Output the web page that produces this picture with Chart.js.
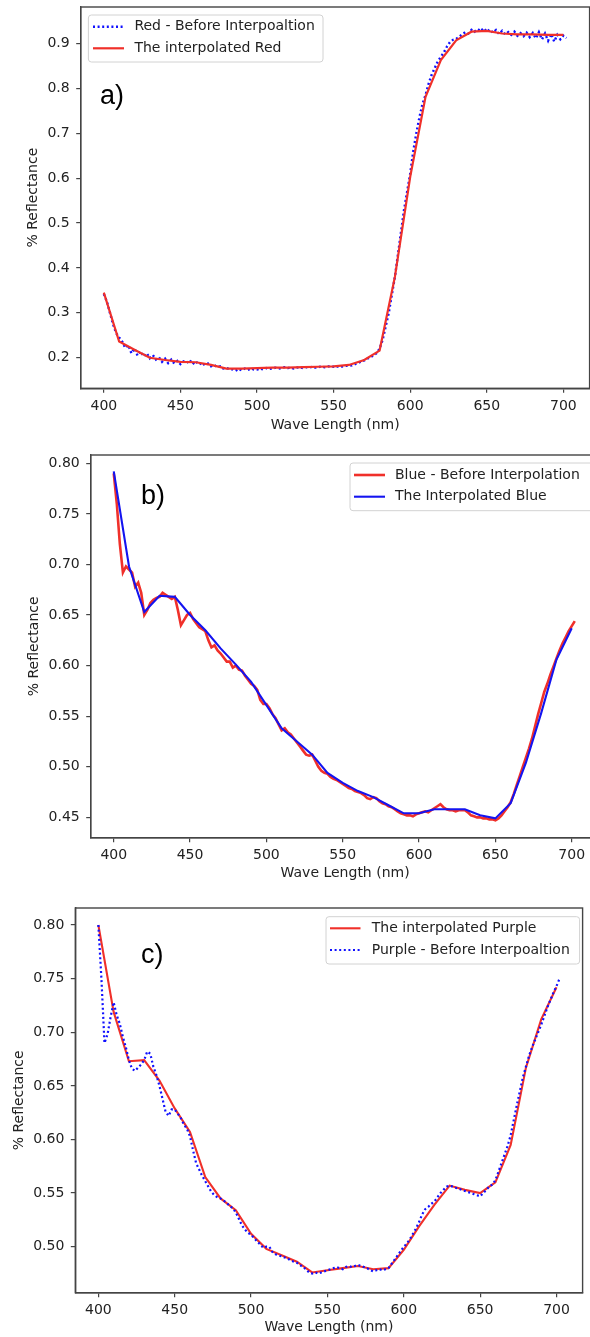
<!DOCTYPE html>
<html>
<head>
<meta charset="utf-8">
<script src="https://cdn.jsdelivr.net/npm/chart.js@4/dist/chart.umd.min.js"></script>
<style>
  body { margin: 0; width: 590px; height: 1337px; overflow: hidden; background: #fff; position: relative; }
  canvas { position: absolute; left: 0; }
  .tag { position: absolute; font-family: "Liberation Sans", Arial, sans-serif; font-size: 27px; line-height: 27px; color: #000; }
</style>
</head>
<body>
<canvas id="chartA" width="600" height="440" style="top:0"></canvas>
<canvas id="chartB" width="610" height="450" style="top:440px"></canvas>
<canvas id="chartC" width="600" height="447" style="top:890px"></canvas>
<div class="tag" style="left:100px;top:82px">a)</div>
<div class="tag" style="left:141px;top:482px">b)</div>
<div class="tag" style="left:141px;top:941px">c)</div>
<script>
// wavelengths (nm)
const waveFine = [
  400,402,404,406,408,410,412,414,416,418,
  420,422,424,426,428,430,432,434,436,438,
  440,442,444,446,448,450,452,454,456,458,
  460,462,464,466,468,470,472,474,476,478,
  480,482,484,486,488,490,492,494,496,498,
  500,502,504,506,508,510,512,514,516,518,
  520,522,524,526,528,530,532,534,536,538,
  540,542,544,546,548,550,552,554,556,558,
  560,562,564,566,568,570,572,574,576,578,
  580,582,584,586,588,590,592,594,596,598,
  600,602,604,606,608,610,612,614,616,618,
  620,622,624,626,628,630,632,634,636,638,
  640,642,644,646,648,650,652,654,656,658,
  660,662,664,666,668,670,672,674,676,678,
  680,682,684,686,688,690,692,694,696,698,
  700,702
];
const waveCoarse = [400,410,420,430,440,450,460,470,480,490,500,510,520,530,540,550,
  560,570,580,590,600,610,620,630,640,650,660,670,680,690,700];

// a) Red
const redBefore = [
  0.342,0.325,0.300,0.275,0.255,0.245,0.236,0.222,0.228,0.210,
  0.221,0.205,0.214,0.203,0.210,0.199,0.206,0.196,0.201,0.191,
  0.198,0.188,0.196,0.187,0.193,0.186,0.192,0.188,0.195,0.186,
  0.192,0.185,0.189,0.183,0.187,0.181,0.184,0.179,0.181,0.176,
  0.177,0.175,0.174,0.171,0.175,0.172,0.176,0.173,0.176,0.174,
  0.174,0.176,0.174,0.177,0.175,0.176,0.178,0.176,0.177,0.179,
  0.177,0.178,0.176,0.178,0.179,0.177,0.179,0.178,0.180,0.178,
  0.179,0.181,0.179,0.180,0.182,0.180,0.181,0.179,0.181,0.182,
  0.182,0.183,0.186,0.188,0.192,0.194,0.198,0.201,0.205,0.210,
  0.220,0.240,0.270,0.300,0.340,0.380,0.430,0.480,0.530,0.570,
  0.610,0.660,0.700,0.735,0.765,0.785,0.810,0.830,0.845,0.860,
  0.870,0.880,0.893,0.903,0.908,0.910,0.915,0.920,0.925,0.922,
  0.930,0.926,0.932,0.927,0.934,0.926,0.931,0.924,0.930,0.921,
  0.928,0.920,0.925,0.919,0.926,0.917,0.923,0.916,0.924,0.914,
  0.923,0.911,0.925,0.909,0.922,0.906,0.921,0.904,0.919,0.909,
  0.917,0.912
];
const redInterp = [0.345,0.236,0.218,0.200,0.195,0.191,0.190,0.184,0.176,0.176,0.177,
  0.178,0.178,0.179,0.180,0.181,0.184,0.195,0.216,0.380,0.603,0.781,0.863,0.907,0.926,
  0.928,0.922,0.920,0.920,0.919,0.919];

// b) Blue
const blueBefore = [
  0.790,0.760,0.720,0.692,0.698,0.695,0.692,0.678,0.682,0.672,
  0.650,0.655,0.662,0.665,0.667,0.668,0.672,0.670,0.668,0.666,
  0.668,0.655,0.640,0.645,0.650,0.652,0.646,0.642,0.638,0.636,
  0.634,0.625,0.618,0.620,0.615,0.612,0.608,0.604,0.604,0.598,
  0.600,0.596,0.595,0.590,0.586,0.582,0.580,0.576,0.566,0.562,
  0.562,0.558,0.552,0.548,0.542,0.536,0.538,0.534,0.532,0.528,
  0.524,0.520,0.516,0.512,0.511,0.512,0.506,0.500,0.496,0.494,
  0.493,0.490,0.488,0.487,0.485,0.483,0.481,0.479,0.478,0.476,
  0.475,0.474,0.472,0.469,0.468,0.470,0.469,0.466,0.464,0.463,
  0.461,0.460,0.458,0.456,0.454,0.453,0.452,0.452,0.451,0.453,
  0.454,0.455,0.456,0.455,0.457,0.459,0.461,0.463,0.460,0.458,
  0.457,0.457,0.456,0.457,0.457,0.457,0.455,0.452,0.451,0.450,
  0.450,0.449,0.449,0.448,0.448,0.447,0.449,0.452,0.456,0.460,
  0.465,0.473,0.482,0.491,0.500,0.509,0.518,0.528,0.540,0.552,
  0.563,0.574,0.582,0.591,0.599,0.607,0.615,0.622,0.628,0.634,
  0.639,0.644
];
const blueInterp = [0.792,0.698,0.653,0.669,0.668,0.650,0.635,0.617,0.601,0.584,0.561,
  0.538,0.525,0.512,0.494,0.484,0.476,0.470,0.462,0.454,0.454,0.458,0.458,0.458,0.452,
  0.449,0.464,0.504,0.553,0.606,0.637];

// c) Purple
const purpleBefore = [
  0.800,0.750,0.690,0.698,0.714,0.728,0.716,0.708,0.696,0.686,
  0.674,0.666,0.664,0.667,0.670,0.674,0.682,0.680,0.668,0.660,
  0.650,0.638,0.626,0.622,0.628,0.628,0.624,0.620,0.614,0.610,
  0.603,0.590,0.578,0.572,0.566,0.561,0.556,0.551,0.548,0.546,
  0.545,0.543,0.541,0.538,0.536,0.532,0.526,0.520,0.516,0.513,
  0.511,0.508,0.505,0.502,0.499,0.500,0.500,0.495,0.493,0.492,
  0.491,0.490,0.489,0.487,0.486,0.485,0.483,0.481,0.479,0.476,
  0.475,0.476,0.475,0.476,0.477,0.478,0.479,0.480,0.481,0.480,
  0.479,0.481,0.482,0.481,0.482,0.483,0.482,0.481,0.480,0.478,
  0.477,0.478,0.479,0.478,0.479,0.480,0.484,0.488,0.492,0.496,
  0.500,0.503,0.507,0.512,0.517,0.523,0.530,0.535,0.537,0.540,
  0.542,0.546,0.550,0.553,0.556,0.557,0.556,0.555,0.554,0.553,
  0.552,0.551,0.550,0.549,0.548,0.547,0.550,0.553,0.556,0.558,
  0.562,0.570,0.578,0.586,0.594,0.604,0.618,0.632,0.645,0.658,
  0.668,0.678,0.686,0.693,0.700,0.707,0.715,0.723,0.730,0.737,
  0.743,0.750
];
const purpleInterp = [0.800,0.719,0.673,0.674,0.655,0.629,0.607,0.565,0.545,0.534,0.512,
  0.498,0.492,0.486,0.476,0.478,0.480,0.482,0.479,0.480,0.497,0.519,0.539,0.557,0.553,
  0.550,0.560,0.595,0.667,0.712,0.742];

// tick labels
const xTicks = [400, 450, 500, 550, 600, 650, 700];
const yTicksA = [0.2, 0.3, 0.4, 0.5, 0.6, 0.7, 0.8, 0.9];
const yTicksB = [0.45, 0.50, 0.55, 0.60, 0.65, 0.70, 0.75, 0.80];
const yTicksC = [0.50, 0.55, 0.60, 0.65, 0.70, 0.75, 0.80];

Chart.defaults.font.family = '"DejaVu Sans", sans-serif';
Chart.defaults.font.size = 14;
Chart.defaults.color = '#222';

const pts = (xs, ys) => xs.map((x, i) => ({x: x, y: ys[i]}));

// frame round the plot + matplotlib style legend box
const boxLegend = {
  id: 'boxLegend',
  afterDraw(chart, args, opts) {
    const ctx = chart.ctx;
    const a = chart.chartArea;
    ctx.save();
    ctx.strokeStyle = '#444';
    ctx.lineWidth = 1.4;
    ctx.strokeRect(a.left, a.top, a.right - a.left, a.bottom - a.top);

    const b = opts.box;
    ctx.beginPath();
    ctx.roundRect(b[0], b[1], b[2], b[3], 3);
    ctx.fillStyle = 'rgba(255,255,255,0.8)';
    ctx.fill();
    ctx.strokeStyle = '#d2d2d2';
    ctx.lineWidth = 1;
    ctx.stroke();

    ctx.font = '14px "DejaVu Sans"';
    ctx.textBaseline = 'middle';
    chart.data.datasets.forEach((ds, i) => {
      const y = opts.rows[i];
      ctx.beginPath();
      ctx.setLineDash(ds.borderDash || []);
      ctx.strokeStyle = ds.borderColor;
      ctx.lineWidth = ds.borderWidth;
      ctx.moveTo(opts.lineX[0], y);
      ctx.lineTo(opts.lineX[1], y);
      ctx.stroke();
      ctx.setLineDash([]);
      ctx.fillStyle = '#222';
      ctx.fillText(ds.label, opts.textX, y);
    });
    ctx.restore();
  }
};

function panel(id, o) {
  return new Chart(document.getElementById(id), {
    type: 'line',
    data: { datasets: o.datasets },
    options: {
      responsive: false,
      animation: false,
      devicePixelRatio: 1,
      layout: { padding: { top: o.padTop, right: o.padRight, left: 0, bottom: 0 } },
      elements: { point: { radius: 0 }, line: { tension: 0 } },
      plugins: { legend: { display: false }, tooltip: { enabled: false }, boxLegend: o.legend },
      scales: {
        x: {
          type: 'linear', min: o.xMin, max: o.xMax,
          afterFit: s => { s.height = o.xAxisH; s.paddingLeft = 0; s.paddingRight = 0; },
          afterBuildTicks: s => { s.ticks = xTicks.map(v => ({value: v})); },
          ticks: { padding: 5, maxRotation: 0, callback: v => String(v) },
          grid: { drawOnChartArea: false, tickLength: 4.5, color: '#444', lineWidth: 1.2 },
          border: { color: '#444', width: 1.4 },
          title: { display: true, text: 'Wave Length (nm)', padding: { top: 0, bottom: o.xTitlePad } }
        },
        y: {
          min: o.yMin, max: o.yMax,
          afterFit: s => { s.width = o.yAxisW; s.paddingTop = 0; s.paddingBottom = 0; },
          afterBuildTicks: s => { s.ticks = o.yTicks.map(v => ({value: v})); },
          ticks: { padding: 6.5, callback: v => v.toFixed(o.digits) },
          grid: { drawOnChartArea: false, tickLength: 4.5, color: '#444', lineWidth: 1.2 },
          border: { color: '#444', width: 1.4 },
          title: { display: true, text: '% Reflectance', padding: { top: o.yTitlePad, bottom: 0 } }
        }
      }
    },
    plugins: [boxLegend]
  });
}

panel('chartA', {
  datasets: [
    { label: 'Red - Before Interpoaltion', data: pts(waveFine, redBefore), borderColor: '#1010ff',
      borderWidth: 2.4, borderDash: [2, 2.6], order: 1 },
    { label: 'The interpolated Red', data: pts(waveCoarse, redInterp), borderColor: '#f0302a',
      borderWidth: 2.2, order: 0 }
  ],
  padTop: 7, padRight: 10.4, xAxisH: 51.7, yAxisW: 80.7,
  xMin: 384.9, xMax: 717.1, yMin: 0.132, yMax: 0.981, yTicks: yTicksA, digits: 1,
  xTitlePad: 6.6, yTitlePad: 25,
  legend: { box: [88.4, 15, 234.6, 47], rows: [26.7, 48.3], lineX: [93, 124], textX: 134.4 }
});

panel('chartB', {
  datasets: [
    { label: 'Blue - Before Interpolation', data: pts(waveFine, blueBefore), borderColor: '#f0302a',
      borderWidth: 2.6, order: 1 },
    { label: 'The Interpolated Blue', data: pts(waveCoarse, blueInterp), borderColor: '#1414f0',
      borderWidth: 2.1, order: 0 }
  ],
  padTop: 15, padRight: 10.5, xAxisH: 52.3, yAxisW: 90.7,
  xMin: 384.9, xMax: 718.2, yMin: 0.4299, yMax: 0.8082, yTicks: yTicksB, digits: 2,
  xTitlePad: 8.3, yTitlePad: 25.6,
  legend: { box: [350, 23, 250, 47.7], rows: [35, 56.7], lineX: [354, 385], textX: 395 }
});

panel('chartC', {
  datasets: [
    { label: 'The interpolated Purple', data: pts(waveCoarse, purpleInterp), borderColor: '#f0302a',
      borderWidth: 2.1, order: 1 },
    { label: 'Purple - Before Interpoaltion', data: pts(waveFine, purpleBefore), borderColor: '#1010ff',
      borderWidth: 2.2, borderDash: [2, 2.6], order: 0 }
  ],
  padTop: 18, padRight: 17.4, xAxisH: 44.3, yAxisW: 75.3,
  xMin: 384.9, xMax: 717.1, yMin: 0.4571, yMax: 0.8159, yTicks: yTicksC, digits: 2,
  xTitlePad: 1.3, yTitlePad: 10.6,
  legend: { box: [326, 26.7, 253.6, 47.3], rows: [38.3, 60], lineX: [330, 360.5], textX: 371.8 }
});
</script>
</body>
</html>
